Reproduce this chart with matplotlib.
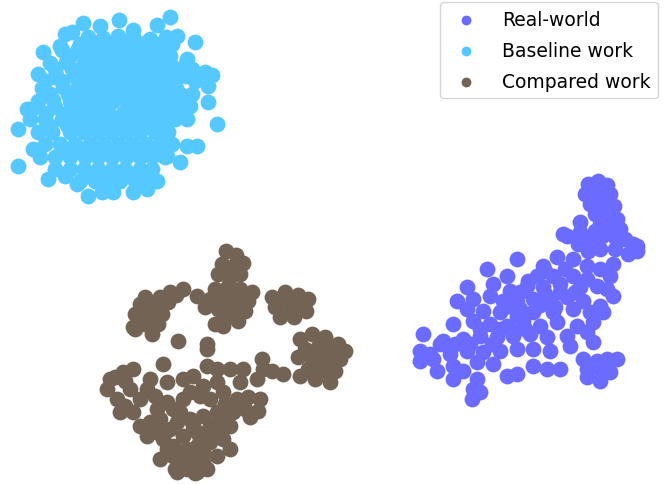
import matplotlib.pyplot as plt

# t-SNE style embedding, coordinates (pixel-like units)
labels = ["Real-world", "Baseline work", "Compared work"]
colors = ["#6b6bff", "#55c8ff", "#736355"]

real_x = [588, 598, 607, 585, 597, 610, 590, 602, 614, 595, 607, 617, 600, 613, 580,
          590, 602, 615, 625, 633, 637, 628, 615, 600, 588, 578, 567, 563, 613, 637,
          517, 487, 507, 543, 557, 573, 587, 600, 610, 537, 553, 573, 587,
          467, 493, 510, 527, 543, 560, 580, 597, 607, 613,
          457, 473, 490, 503, 517, 533, 550, 567, 583, 600,
          467, 483, 500, 517, 533, 553, 573, 590, 603,
          453, 473, 490, 507, 523, 540, 557, 577, 593,
          423, 443, 463, 480, 497, 513, 530, 547, 567, 587, 593,
          420, 433, 450, 467, 483, 500, 517, 533, 550, 570,
          420, 437, 453, 463, 477, 493, 507, 517, 533, 547, 560,
          453, 477, 473, 472, 480,
          583, 597, 607, 617, 587, 600, 610, 600, 587,
          593, 604, 592, 603, 598, 608, 620, 595, 580, 545, 565, 520, 528, 545,
          560, 575, 505, 520, 540, 555, 480, 500, 512, 525, 492, 470, 455, 440, 430]
real_y = [185, 182, 186, 195, 193, 195, 205, 203, 207, 215, 215, 220, 225, 228, 223,
          240, 237, 238, 240, 245, 252, 255, 250, 250, 252, 245, 237, 235, 265, 247,
          260, 270, 277, 267, 258, 260, 267, 270, 277, 277, 277, 277, 280,
          288, 285, 292, 287, 288, 285, 288, 287, 290, 297,
          302, 300, 297, 302, 303, 300, 302, 298, 302, 307,
          310, 312, 313, 317, 313, 313, 310, 313, 313,
          325, 322, 325, 327, 323, 327, 323, 327, 323,
          335, 342, 340, 337, 338, 337, 335, 338, 337, 333, 343,
          352, 360, 355, 352, 353, 352, 350, 350, 352, 347,
          362, 372, 367, 372, 363, 365, 377, 375, 367, 370, 370,
          380, 380, 390, 400, 393,
          360, 362, 360, 360, 370, 370, 373, 382, 378,
          190, 189, 200, 199, 210, 210, 230, 232, 233, 272, 270, 293, 282, 295,
          293, 293, 308, 310, 306, 308, 330, 330, 332, 330, 345, 345, 345, 345, 355]

base_x = [170, 119, 83, 100, 133, 157, 65, 72, 177, 195, 43, 60, 147, 187, 205, 212,
          38, 55, 208, 208, 217, 27, 18, 33, 18, 197, 187, 180, 48, 65, 77, 88, 102,
          113, 133, 147, 157, 167, 187, 190,
          80, 95, 110, 125, 140, 160, 172,
          70, 85, 100, 115, 130, 145, 158, 170,
          55, 72, 88, 100, 112, 128, 140, 152, 165, 178, 192,
          45, 62, 78, 92, 105, 118, 132, 146, 160, 175, 195,
          50, 68, 82, 96, 110, 123, 138, 150, 165, 180, 192,
          35, 55, 72, 85, 100, 128, 142, 156, 170, 182,
          30, 45, 62, 78, 92, 106, 120, 134, 148, 162, 175,
          38, 52, 70, 84, 98, 112, 126, 140, 155, 168,
          45, 60, 75, 90, 104, 118, 132, 146, 160, 172,
          40, 55, 70, 85, 98, 112, 126, 140, 152, 165,
          55, 70, 84, 98, 112, 125, 140, 152,
          80, 95, 108, 120, 135,
          88, 103, 118, 133, 150, 166,
          62, 78, 93, 108, 122, 137, 152, 164,
          50, 66, 84, 96, 106, 124, 134, 146, 158, 170, 186,
          56, 75, 89, 103, 116, 130, 144, 157, 172, 186,
          42, 63, 78, 93, 108, 121, 135, 149, 163, 176,
          38, 53, 70, 85, 99, 113, 127, 141, 155, 169,
          46, 65, 80, 95, 109, 123, 137, 151, 164,
          50, 67, 82, 96, 110, 124, 138, 152, 165,
          62, 77, 92, 105, 119, 133, 146, 159,
          90, 104, 117, 130, 144]
base_y = [18, 21, 24, 27, 31, 26, 35, 33, 37, 43, 53, 47, 43, 60, 73, 76,
          75, 78, 87, 103, 125, 110, 130, 150, 167, 147, 147, 163, 180, 177, 185, 197, 193,
          193, 193, 190, 182, 157, 120, 107,
          45, 45, 45, 45, 45, 45, 45,
          57, 57, 57, 57, 57, 57, 57, 57,
          70, 70, 70, 70, 70, 70, 70, 70, 70, 70, 70,
          82, 82, 82, 82, 82, 82, 82, 82, 82, 82, 82,
          95, 95, 95, 95, 95, 95, 95, 95, 95, 95, 95,
          108, 108, 108, 108, 108, 108, 108, 108, 108, 108,
          120, 120, 120, 120, 120, 120, 120, 120, 120, 120, 120,
          133, 133, 133, 133, 133, 133, 133, 133, 133, 133,
          145, 145, 145, 145, 145, 145, 145, 145, 145, 145,
          158, 158, 158, 158, 158, 158, 158, 158, 158, 158,
          170, 170, 170, 170, 170, 170, 170, 170,
          182, 182, 182, 182, 182,
          38, 39, 37, 38, 40, 38,
          51, 50, 52, 51, 50, 52, 51, 50,
          64, 63, 64, 65, 63, 64, 65, 63, 64, 65, 64,
          76, 77, 76, 75, 77, 76, 77, 76, 75, 77,
          89, 88, 89, 90, 88, 89, 90, 89, 88, 89,
          102, 101, 102, 103, 101, 102, 103, 101, 102, 103,
          114, 115, 114, 113, 115, 114, 113, 115, 114,
          127, 126, 127, 128, 126, 127, 128, 126, 127,
          152, 151, 152, 153, 151, 152, 153, 151,
          176, 177, 176, 175, 177]

comp_x = [226, 236, 243, 222, 232, 218, 240, 230,
          215, 228, 240, 252, 210, 222, 235, 248, 205, 218, 232, 245, 225, 215, 238, 223,
          197, 183, 170, 176,
          145, 160, 140, 155, 168, 135, 150, 162, 145, 158, 135, 152, 133,
          272, 285, 298, 308, 275, 288, 300, 280, 294, 306,
          300, 312, 325, 338, 345, 305, 318, 330, 298, 312, 325, 340, 308, 322, 335, 315, 330,
          178, 207, 207, 163, 167,
          262, 272, 283, 257, 300, 263,
          248, 260, 245, 258, 250,
          110, 123, 133, 107, 117, 120, 133, 140, 147, 130, 140, 150, 147, 157, 163,
          160, 173, 177, 187, 197, 207, 203, 217, 230, 223, 217, 230, 233, 237, 240,
          243, 230, 217, 207, 193, 183, 190, 203, 217, 223, 210, 183, 173, 167,
          157, 177, 190, 203, 217, 223, 210, 197, 183, 173, 187, 197, 210, 190, 180,
          167, 155, 150, 160, 170,
          228, 237, 225, 243, 230, 282, 292, 302, 318, 332, 312, 325, 140, 150, 125,
          115, 125, 200, 210, 193, 180, 165, 203, 185, 175, 195, 215, 225, 200, 185]
comp_y = [252, 256, 264, 265, 268, 275, 275, 278,
          290, 287, 290, 293, 300, 298, 300, 302, 308, 310, 312, 312, 320, 325, 322, 327,
          297, 290, 293, 296,
          298, 298, 305, 308, 303, 315, 315, 315, 325, 325, 330, 335, 328,
          298, 293, 296, 300, 308, 305, 308, 318, 318, 312,
          340, 335, 338, 345, 352, 350, 348, 352, 358, 360, 362, 360, 370, 372, 372, 380, 383,
          342, 350, 345, 365, 383,
          360, 372, 375, 380, 377, 370,
          398, 400, 410, 412, 418,
          380, 373, 370, 390, 400, 413, 413, 400, 390, 390, 427, 423, 437, 433, 440,
          460, 457, 473, 470, 473, 470, 453, 457, 450, 440, 433, 427, 413, 400, 383,
          370, 370, 370, 367, 377, 380, 393, 387, 383, 393, 400, 400, 410, 403,
          410, 423, 420, 417, 413, 420, 427, 433, 437, 447, 450, 447, 443, 460, 460,
          450, 397, 380, 420, 430,
          295, 305, 305, 298, 315, 300, 312, 302, 355, 365, 366, 345, 310, 320, 407,
          378, 382, 440, 437, 427, 413, 433, 463, 465, 470, 474, 425, 405, 397, 455]

xs = [real_x, base_x, comp_x]
ys = [real_y, base_y, comp_y]

fig = plt.figure(figsize=(6.64, 4.85), dpi=100)
ax = fig.add_axes([0, 0, 1, 1])

for x, y, lab, col in zip(xs, ys, labels, colors):
    ax.scatter(x, y, s=130, color=col, linewidths=0, label=lab)

ax.set_xlim(0, 664)
ax.set_ylim(485, 0)
ax.axis("off")

ax.legend(loc="upper right", bbox_to_anchor=(658 / 664, 1 - 3 / 485),
          bbox_transform=fig.transFigure, borderaxespad=0, fontsize=13.5,
          markerscale=0.62, labelspacing=0.65, handletextpad=0.9)

fig.savefig("out.png", dpi=100)
